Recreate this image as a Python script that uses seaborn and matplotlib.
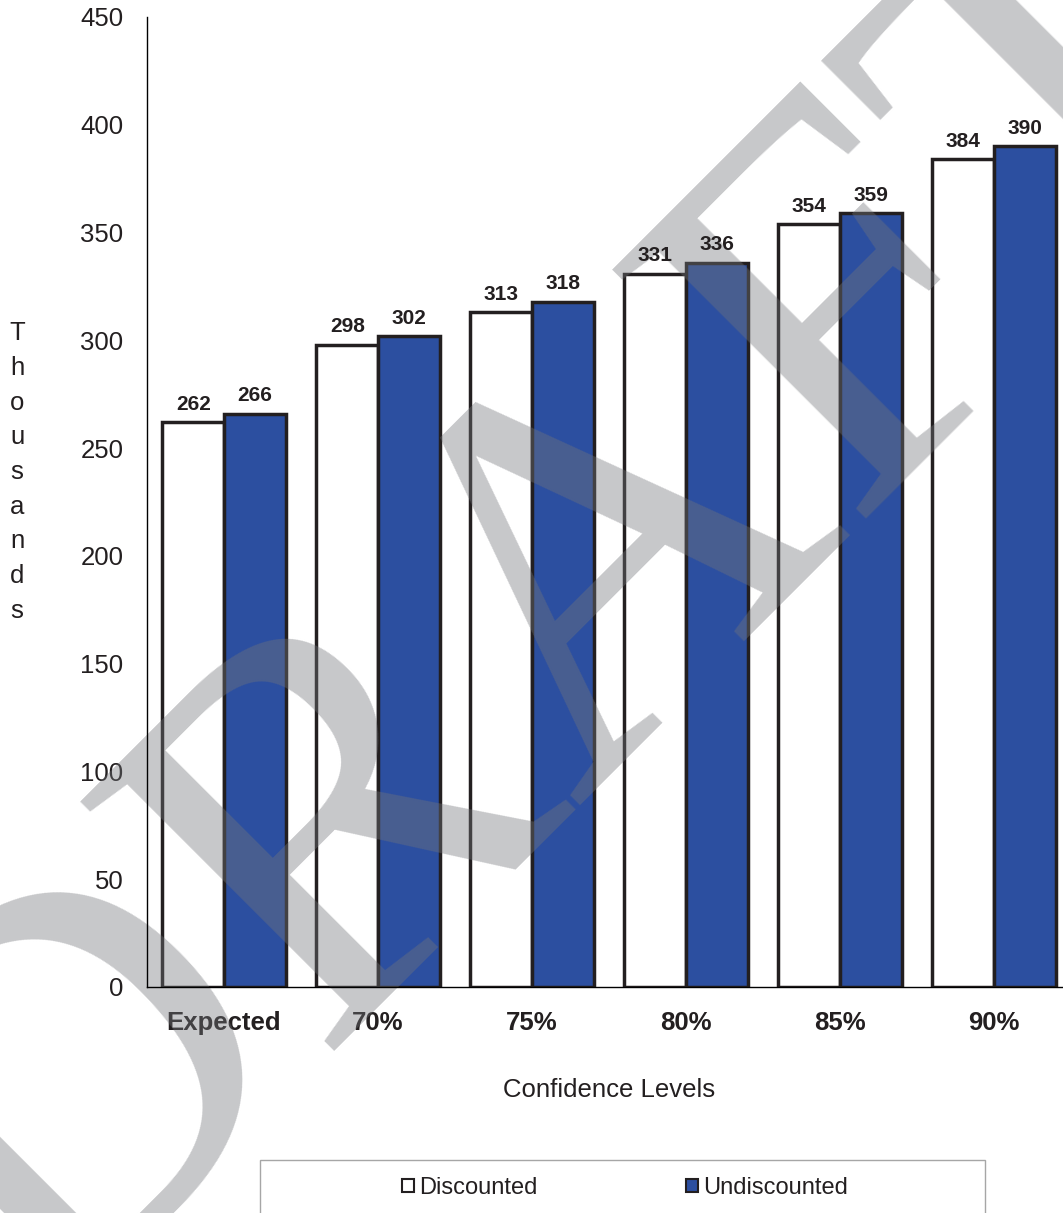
import matplotlib.pyplot as plt
import matplotlib.patches as mpatches
import pandas as pd
import seaborn as sns

# data (values in thousands)
levels = ["Expected", "70%", "75%", "80%", "85%", "90%"]
series = ["Discounted", "Undiscounted"]
discounted = [262, 298, 313, 331, 354, 384]
undiscounted = [266, 302, 318, 336, 359, 390]
y_ticks = list(range(0, 451, 50))

INK = "#231F20"
BLUE = "#2C4FA0"
W, H = 1063, 1213

sns.set_theme(style="white")
plt.rcParams["font.family"] = ["Liberation Sans", "DejaVu Sans"]

df = pd.DataFrame({
    "level": levels * 2,
    "value": discounted + undiscounted,
    "series": [series[0]] * len(levels) + [series[1]] * len(levels),
})

fig = plt.figure(figsize=(W / 100, H / 100), dpi=100, facecolor="white")
ax = fig.add_axes([147 / W, 1 - 987 / H, (1071 - 147) / W, (987 - 17) / H])

sns.barplot(
    data=df, x="level", y="value", hue="series",
    order=levels, hue_order=series,
    palette={"Discounted": "white", "Undiscounted": BLUE},
    saturation=1, edgecolor=INK, linewidth=2.5,
    ax=ax, legend=False,
)

for c in ax.containers:
    ax.bar_label(c, fmt="%d", padding=6, fontsize=15, fontweight="bold", color=INK)

ax.set_xlim(-0.5, 5.5)
ax.set_ylim(0, 450)
ax.set_yticks(y_ticks)
ax.tick_params(axis="both", length=0, labelcolor=INK)
ax.tick_params(axis="y", pad=17, labelsize=18.5)
ax.tick_params(axis="x", pad=17, labelsize=18.5)
for t in ax.get_xticklabels():
    t.set_fontweight("bold")

for side in ["top", "right"]:
    ax.spines[side].set_visible(False)
for side in ["left", "bottom"]:
    ax.spines[side].set_color("black")
    ax.spines[side].set_linewidth(1)

ax.set_xlabel("Confidence Levels", fontsize=18.5, color=INK, labelpad=31)
ax.set_ylabel("\n".join("Thousands"), rotation=0, fontsize=18.5, color=INK,
              linespacing=1.56, ha="center", va="center")
ax.yaxis.set_label_coords((17 - 147) / (1071 - 147), (987 - 472) / (987 - 17))

# DRAFT watermark over the bars
ax.text(668 / W, 1 - 702 / H, "DRAFT", transform=fig.transFigure,
        rotation=45, rotation_mode="anchor", ha="center", va="baseline",
        fontsize=390, family="Liberation Serif", color="#73757A", alpha=0.4,
        zorder=2, clip_on=False)

# legend box (its bottom runs off the page)
fig.patches.append(mpatches.Rectangle(
    (260 / W, -0.05), (985 - 260) / W, 0.05 + 1 - 1160 / H,
    transform=fig.transFigure, facecolor="none", edgecolor="#A6A6A6", linewidth=1))
handles = [
    mpatches.Patch(facecolor="white", edgecolor=INK, linewidth=1.5),
    mpatches.Patch(facecolor=BLUE, edgecolor=INK, linewidth=1.5),
]
fig.legend(handles, series, loc="center", bbox_to_anchor=(625 / W, 1 - 1188 / H),
           ncol=2, frameon=False, fontsize=17, handlelength=0.5, handleheight=0.5,
           handletextpad=0.2, columnspacing=6.3, labelcolor=INK)

fig.savefig("out.png", dpi=100)
